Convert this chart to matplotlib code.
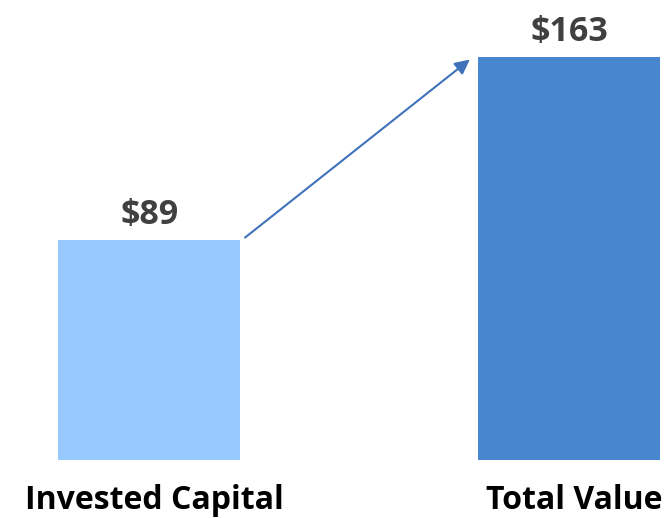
import matplotlib
matplotlib.use("Agg")
from matplotlib import pyplot as plt

# Chart data
categories = ['Invested Capital', 'Total Value']
values = [89, 163]
valueLabels = ['$89', '$163']
barColors = ['#97C8FE', '#4886D0']

fig = plt.figure(figsize=(6.72, 5.18), dpi=100)
ax = fig.add_axes([0, 58 / 518, 1, 460 / 518])

positions = list(range(len(categories)))
barWidth = 0.433
ax.bar(positions, values, width=barWidth, color=barColors)

ax.set_xlim(-0.355, 1.245)
ax.set_ylim(0, 186.1)
ax.axis('off')

# Value labels above bars
for x, v, lbl in zip(positions, values, valueLabels):
    ax.annotate(lbl, (x, v), xytext=(0, 6), textcoords='offset points',
                ha='center', va='bottom', fontsize=24.5, fontweight='bold',
                color='#404040', family='Open Sans')

# Category labels under the bars
for x, cat in zip(positions, categories):
    ax.annotate(cat, (x, 0), xytext=(4, -29.5), textcoords='offset points',
                ha='center', va='center', fontsize=23, fontweight='bold',
                color='black', family='Open Sans', annotation_clip=False)

# Arrow from the first bar to the second
start = (positions[0] + barWidth / 2 + 0.012, values[0] + 1)
end = (positions[1] - barWidth / 2 - 0.02, values[1] - 1)
ax.annotate('', xy=end, xytext=start,
            arrowprops=dict(arrowstyle='-|>', color='#3F72BA', lw=1.5,
                            mutation_scale=22, shrinkA=0, shrinkB=0))

fig.savefig('out.png', dpi=100)
